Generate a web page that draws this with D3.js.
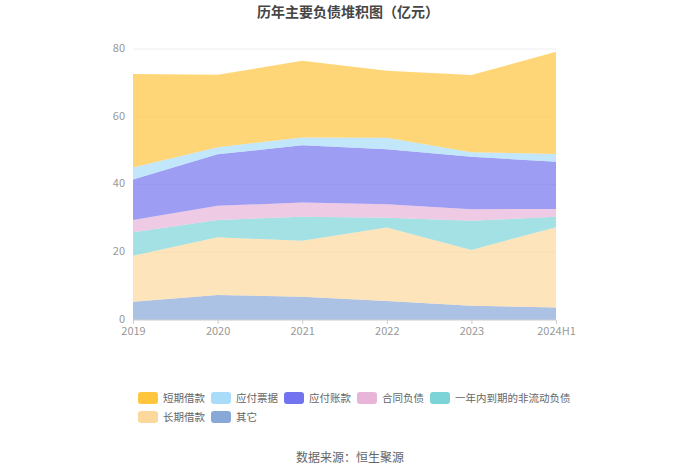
<!DOCTYPE html>
<html>
<head>
<meta charset="utf-8">
<script src="https://cdn.jsdelivr.net/npm/d3@7"></script>
<style>
  body { margin: 0; background: #fff; }
  text { font-family: "Microsoft YaHei", "Noto Sans CJK SC", sans-serif; }
</style>
</head>
<body>
<svg id="chart" width="700" height="474"></svg>
<script>
const years = ['2019', '2020', '2021', '2022', '2023', '2024H1'];

// series values, 亿元 (bottom of the stack first)
const other       = [5.4, 7.4, 6.9, 5.6, 4.2, 3.7];
const longLoan    = [13.6, 17.0, 16.5, 21.7, 16.5, 23.7];
const nonCurrent  = [6.9, 5.1, 7.1, 2.9, 8.6, 3.1];
const contract    = [3.6, 4.2, 4.2, 4.0, 3.4, 2.3];
const payables    = [12.0, 15.2, 16.9, 16.2, 15.5, 13.9];
const notes       = [3.5, 2.1, 2.3, 3.4, 1.3, 2.3];
const shortLoan   = [27.6, 21.4, 22.6, 19.8, 22.8, 30.2];

const yTicks = [0, 20, 40, 60, 80];

const series = [
    { key: '其它', values: other, color: '#88a8d8' },
    { key: '长期借款', values: longLoan, color: '#fdd89c' },
    { key: '一年内到期的非流动负债', values: nonCurrent, color: '#7cd4d8' },
    { key: '合同负债', values: contract, color: '#e8b4d8' },
    { key: '应付账款', values: payables, color: '#7373f0' },
    { key: '应付票据', values: notes, color: '#a8dcf8' },
    { key: '短期借款', values: shortLoan, color: '#ffc53d' }
];

// legend order as in the picture
const legendOrder = ['短期借款', '应付票据', '应付账款', '合同负债', '一年内到期的非流动负债', '长期借款', '其它'];

const svg = d3.select('#chart');
const margin = { left: 133, right: 144, top: 49, bottom: 154 };
const width = 700, height = 474;

const x = d3.scalePoint().domain(years).range([margin.left, width - margin.right]);
const y = d3.scaleLinear().domain([0, 80]).range([height - margin.bottom, margin.top]);

const rows = years.map((yr, i) => {
    let r = { year: yr };
    series.forEach(s => r[s.key] = s.values[i]);
    return r;
});

const stacked = d3.stack().keys(series.map(s => s.key))(rows);

// grid
svg.append('g')
    .selectAll('line')
    .data(yTicks.slice(1))
    .join('line')
    .attr('x1', margin.left).attr('x2', width - margin.right)
    .attr('y1', d => y(d)).attr('y2', d => y(d))
    .attr('stroke', '#eeeeee');

const area = d3.area()
    .x(d => x(d.data.year))
    .y0(d => y(d[0]))
    .y1(d => y(d[1]));

svg.append('g')
    .selectAll('path')
    .data(stacked)
    .join('path')
    .attr('d', area)
    .attr('fill', (d, i) => series[i].color)
    .attr('fill-opacity', 0.7);

// y axis labels
svg.append('g')
    .selectAll('text')
    .data(yTicks)
    .join('text')
    .attr('x', margin.left - 8)
    .attr('y', d => y(d) - 1)
    .attr('dy', '0.35em')
    .attr('text-anchor', 'end')
    .attr('font-size', 11)
    .attr('fill', '#999')
    .text(d => d);

// x axis
const xAxis = d3.axisBottom(x).tickSize(4).tickSizeOuter(0);
const gx = svg.append('g')
    .attr('transform', `translate(0,${y(0)})`)
    .call(xAxis);
gx.select('.domain').attr('stroke', '#ccc').attr('d', `M${margin.left},0H${width - margin.right}`);
gx.selectAll('.tick line').attr('stroke', '#ccc');
gx.selectAll('.tick text')
    .attr('fill', '#999')
    .attr('font-size', 11)
    .attr('dy', '0.71em')
    .attr('font-family', '"Microsoft YaHei", "Noto Sans CJK SC", sans-serif');

// title
svg.append('text')
    .attr('x', 348).attr('y', 17)
    .attr('text-anchor', 'middle')
    .attr('font-size', 14)
    .attr('font-weight', 'bold')
    .attr('fill', '#464646')
    .text('历年主要负债堆积图（亿元）');

// legend, flowing rows
const legend = svg.append('g');
const swW = 20, swH = 12, fontSize = 10.5;
const rowsLegend = [legendOrder.slice(0, 5), legendOrder.slice(5)];
rowsLegend.forEach((rowKeys, ri) => {
    let cx = 138;
    const cy = 398 + ri * 19;
    rowKeys.forEach(k => {
        const s = series.find(d => d.key == k);
        legend.append('rect')
            .attr('x', cx).attr('y', cy - swH / 2)
            .attr('width', swW).attr('height', swH)
            .attr('rx', 3)
            .attr('fill', s.color);
        const t = legend.append('text')
            .attr('x', cx + swW + 5).attr('y', cy)
            .attr('dy', '0.35em')
            .attr('font-size', fontSize)
            .attr('fill', '#666')
            .text(k);
        cx += swW + 5 + t.node().getComputedTextLength() + 6;
    });
});

// source
svg.append('text')
    .attr('x', 350).attr('y', 458)
    .attr('text-anchor', 'middle')
    .attr('dy', '0.35em')
    .attr('font-size', 12)
    .attr('fill', '#666')
    .text('数据来源：恒生聚源');
</script>
</body>
</html>
